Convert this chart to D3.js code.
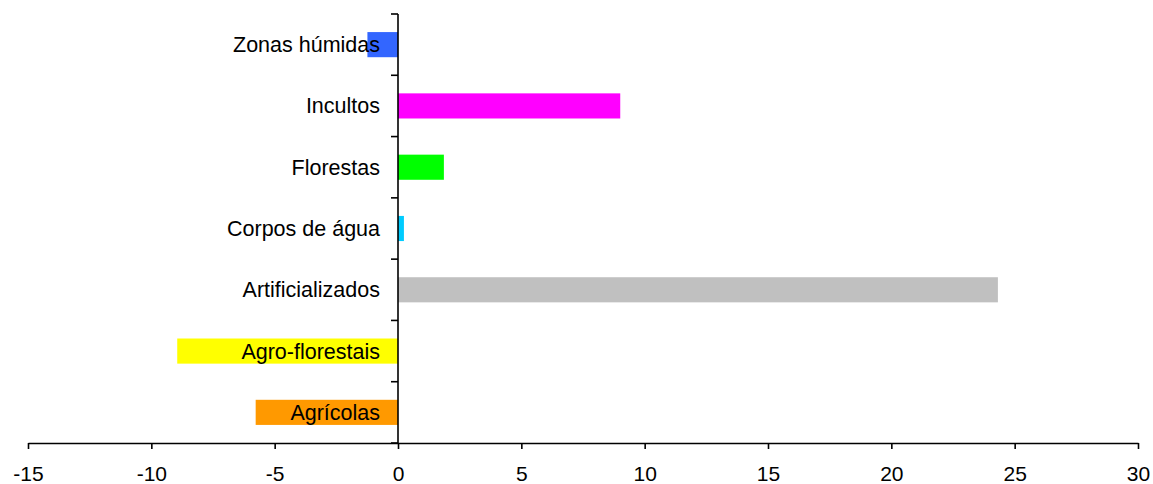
<!DOCTYPE html>
<html>
<head>
<meta charset="utf-8">
<script src="https://cdn.jsdelivr.net/npm/d3@7"></script>
<style>
  html, body { margin: 0; padding: 0; background: #fff; }
  svg { display: block; }
  text { font-family: "Liberation Sans", Arial, sans-serif; fill: #000; }
</style>
</head>
<body>
<svg id="chart" width="1153" height="484"></svg>
<script>
// Land-use change by class (%)
const categories = ["Zonas húmidas", "Incultos", "Florestas", "Corpos de água", "Artificializados", "Agro-florestais", "Agrícolas"];
const values = [-1.24, 9.01, 1.86, 0.24, 24.32, -8.95, -5.77];
const colors = ["#3366FF", "#FF00FF", "#00FF00", "#00CCFF", "#C0C0C0", "#FFFF00", "#FF9900"];
const xTicks = [-15, -10, -5, 0, 5, 10, 15, 20, 25, 30];

const svg = d3.select("#chart");
const plot = { left: 28, right: 1138, top: 14, bottom: 443 };

const x = d3.scaleLinear().domain([-15, 30]).range([plot.left, plot.right]);
const y = d3.scaleBand().domain(categories).range([plot.top, plot.bottom])
  .paddingInner(0.59).paddingOuter(0.295);

// bars
svg.append("g").selectAll("rect")
  .data(categories)
  .join("rect")
  .attr("x", (d, i) => Math.min(x(0), x(values[i])))
  .attr("width", (d, i) => Math.abs(x(values[i]) - x(0)))
  .attr("y", d => y(d))
  .attr("height", y.bandwidth())
  .attr("fill", (d, i) => colors[i]);

// x axis
const xAxis = d3.axisBottom(x).tickValues(xTicks).tickFormat(d3.format("d"))
  .tickSize(6).tickSizeOuter(0).tickPadding(17);
const gx = svg.append("g").attr("transform", `translate(0,${plot.bottom})`).call(xAxis);
gx.select(".domain").attr("stroke", "#000").attr("stroke-width", 1.6);
gx.selectAll(".tick line").attr("stroke", "#000").attr("stroke-width", 1.6);
gx.selectAll(".tick text").style("font-size", "21px").attr("fill", "#000")
  .text(d => d < 0 ? "-" + Math.abs(d) : d);

// vertical axis at zero with ticks between categories
const gy = svg.append("g");
gy.append("line")
  .attr("x1", x(0)).attr("x2", x(0))
  .attr("y1", plot.top).attr("y2", plot.bottom)
  .attr("stroke", "#000").attr("stroke-width", 1.6);
const bounds = d3.range(categories.length + 1).map(i => plot.top + i * y.step());
gy.selectAll("line.tk")
  .data(bounds)
  .join("line")
  .attr("class", "tk")
  .attr("x1", x(0) - 7).attr("x2", x(0))
  .attr("y1", d => d).attr("y2", d => d)
  .attr("stroke", "#000").attr("stroke-width", 1.6);

// category labels
svg.append("g").selectAll("text")
  .data(categories)
  .join("text")
  .attr("x", x(0) - 18)
  .attr("y", d => y(d) + y.bandwidth() / 2)
  .attr("dy", "0.35em")
  .attr("text-anchor", "end")
  .style("font-size", "21.5px")
  .text(d => d);
</script>
</body>
</html>
